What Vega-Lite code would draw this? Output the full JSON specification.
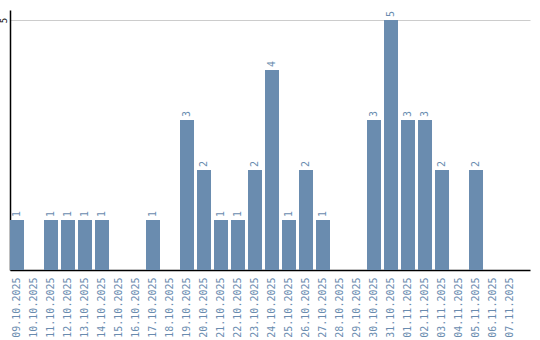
{
  "$schema": "https://vega.github.io/schema/vega-lite/v6.json",
  "width": 520,
  "height": 260,
  "autosize": {"type": "none"},
  "padding": {"left": 10, "top": 10, "right": 10, "bottom": 70},
  "background": "white",
  "config": {"view": {"stroke": null}},
  "data": {"values": [
    {"date": "09.10.2025", "count": 1},
    {"date": "10.10.2025", "count": 0},
    {"date": "11.10.2025", "count": 1},
    {"date": "12.10.2025", "count": 1},
    {"date": "13.10.2025", "count": 1},
    {"date": "14.10.2025", "count": 1},
    {"date": "15.10.2025", "count": 0},
    {"date": "16.10.2025", "count": 0},
    {"date": "17.10.2025", "count": 1},
    {"date": "18.10.2025", "count": 0},
    {"date": "19.10.2025", "count": 3},
    {"date": "20.10.2025", "count": 2},
    {"date": "21.10.2025", "count": 1},
    {"date": "22.10.2025", "count": 1},
    {"date": "23.10.2025", "count": 2},
    {"date": "24.10.2025", "count": 4},
    {"date": "25.10.2025", "count": 1},
    {"date": "26.10.2025", "count": 2},
    {"date": "27.10.2025", "count": 1},
    {"date": "28.10.2025", "count": 0},
    {"date": "29.10.2025", "count": 0},
    {"date": "30.10.2025", "count": 3},
    {"date": "31.10.2025", "count": 5},
    {"date": "01.11.2025", "count": 3},
    {"date": "02.11.2025", "count": 3},
    {"date": "03.11.2025", "count": 2},
    {"date": "04.11.2025", "count": 0},
    {"date": "05.11.2025", "count": 2},
    {"date": "06.11.2025", "count": 0},
    {"date": "07.11.2025", "count": 0}
  ]},
  "encoding": {
    "x": {
      "field": "date", "type": "nominal", "sort": null,
      "scale": {"paddingInner": 0.1765, "paddingOuter": 0.382, "align": 0},
      "axis": {
        "title": null, "labelAngle": -90, "labelAlign": "right", "labelBaseline": "middle",
        "labelFont": "DejaVu Sans Mono", "labelFontSize": 10, "labelColor": "#6a8caf",
        "ticks": false, "labelPadding": 7, "domainColor": "#000000", "domainWidth": 1.5,
        "grid": false
      }
    },
    "y": {
      "field": "count", "type": "quantitative",
      "scale": {"domain": [0, 5.2], "nice": false},
      "axis": {
        "title": null, "values": [5], "ticks": false, "labelAngle": -90,
        "labelAlign": "center", "labelBaseline": "bottom", "labelPadding": 2,
        "labelFont": "DejaVu Sans Mono", "labelFontSize": 9, "labelColor": "#000000",
        "domainColor": "#000000", "domainWidth": 1.5,
        "grid": true, "gridColor": "#cccccc", "gridWidth": 1
      }
    }
  },
  "layer": [
    {"mark": {"type": "bar", "color": "#6a8caf"}},
    {
      "transform": [{"filter": "datum.count > 0"}],
      "mark": {"type": "text", "angle": -90, "align": "left", "baseline": "middle", "dx": 3,
               "font": "DejaVu Sans Mono", "fontSize": 10, "color": "#6a8caf"},
      "encoding": {"text": {"field": "count", "type": "quantitative"}}
    }
  ]
}
